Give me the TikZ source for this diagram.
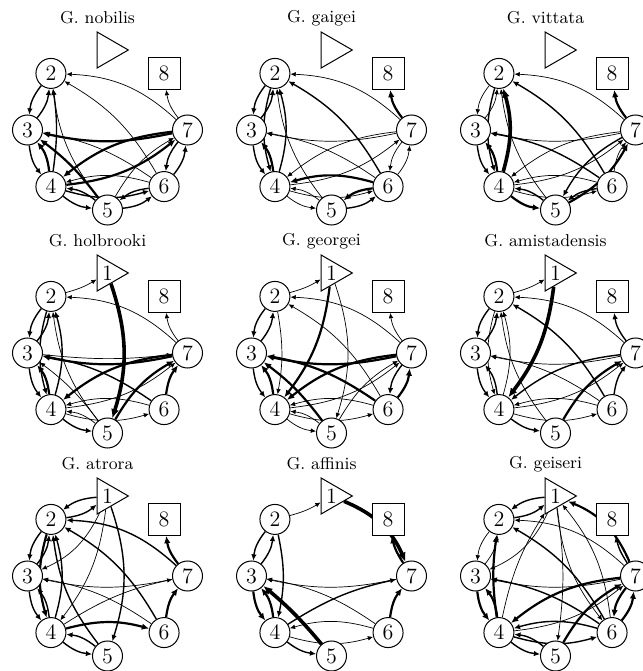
\documentclass[tikz,border=0pt]{standalone}
\usetikzlibrary{arrows.meta,shapes.geometric}
\pgfdeclarelayer{edges}
\pgfsetlayers{edges,main}
\tikzset{
  vtx/.style={circle,draw,line width=0.5pt,fill=white,minimum size=15pt,inner sep=0pt,font=\fontsize{11}{13}\selectfont},
  sqv/.style={rectangle,draw,line width=0.5pt,fill=white,minimum size=16pt,inner sep=0pt,font=\fontsize{11}{13}\selectfont},
  triv/.style={regular polygon,regular polygon sides=3,shape border rotate=-90,draw,line width=0.5pt,fill=white,minimum size=20.8pt,inner sep=0pt,font=\fontsize{11}{13}\selectfont},
  ttl/.style={font=\fontsize{8.6}{10}\selectfont,inner sep=0pt},
  edge/.style={-{Latex[length=2.2pt 1.3,width=1.9pt 1.2]}},
  lwa/.style={line width=0.35pt},
  lwb/.style={line width=0.7pt},
  lwc/.style={line width=1.1pt},
  lwd/.style={line width=1.8pt}
}
% one panel: prefix, centre x, centre y, title, label of node 1
\newcommand\panel[5]{%
  \begin{scope}[shift={(#2,#3)}]
    \node[ttl] (#1-t) at (-10,112) {#4};
    \node[triv] (#1-1) at (0,80) {#5};
    \node[vtx] (#1-2) at (-56.57,56.57) {2};
    \node[vtx] (#1-3) at (-80,0) {3};
    \node[vtx] (#1-4) at (-56.57,-56.57) {4};
    \node[vtx] (#1-5) at (0,-80) {5};
    \node[vtx] (#1-6) at (56.57,-56.57) {6};
    \node[vtx] (#1-7) at (80,0) {7};
    \node[sqv] (#1-8) at (56.57,56.57) {8};
  \end{scope}}
% one edge of the current panel \P: [bend] from, to, width style
\newcommand\E[4][16]{\draw[edge,#4] (\P-#2) to[bend right=#1] (\P-#3);}

\begin{document}
\begin{tikzpicture}[x=0.5pt,y=0.5pt]
\useasboundingbox (0,0) rectangle (643,671);

\panel{a}{107.5}{541}{G. nobilis}{}
\panel{b}{331.5}{541}{G. gaigei}{}
\panel{c}{555.5}{541}{G. vittata}{}
\panel{d}{107.5}{318}{G. holbrooki}{1}
\panel{e}{331.5}{318}{G. georgei}{1}
\panel{f}{555.5}{318}{G. amistadensis}{1}
\panel{g}{107.5}{95}{G. atrora}{1}
\panel{h}{331.5}{95}{G. affinis}{1}
\panel{i}{555.5}{95}{G. geiseri}{1}

\begin{pgfonlayer}{edges}
% G. nobilis
\def\P{a}
\E[-15]{7}{8}{lwa} \E[20]{7}{2}{lwa} \E[-12]{7}{3}{lwc}
\E{6}{7}{lwb} \E{7}{6}{lwb} \E{4}{7}{lwc} \E{7}{4}{lwc}
\E[-15]{5}{7}{lwa} \E[15]{6}{2}{lwa} \E[-15]{5}{2}{lwa} \E[8]{4}{2}{lwb}
\E{2}{3}{lwb} \E{3}{2}{lwb} \E{3}{4}{lwb} \E{4}{3}{lwc}
\E[8]{5}{3}{lwc} \E[12]{6}{3}{lwa}
\E{4}{6}{lwb} \E{6}{4}{lwa} \E{4}{5}{lwb} \E{5}{4}{lwb} \E{5}{6}{lwb} \E{6}{5}{lwb}
% G. gaigei
\def\P{b}
\E[-15]{7}{8}{lwc} \E[20]{7}{2}{lwa} \E[15]{6}{2}{lwb} \E[-15]{5}{2}{lwa}
\E{4}{2}{lwb} \E{2}{4}{lwb} \E{2}{3}{lwb} \E{3}{2}{lwb} \E{3}{4}{lwb} \E{4}{3}{lwc}
\E[-12]{7}{3}{lwa} \E[12]{6}{3}{lwa}
\E{4}{7}{lwa} \E{7}{4}{lwa} \E{6}{7}{lwa} \E{7}{6}{lwa}
\E{6}{4}{lwc} \E{4}{6}{lwa} \E{4}{5}{lwa} \E{5}{4}{lwa} \E{5}{6}{lwb} \E{6}{5}{lwc}
% G. vittata
\def\P{c}
\E[-15]{7}{8}{lwc} \E[20]{7}{2}{lwa} \E[15]{6}{2}{lwb} \E[-15]{5}{2}{lwa}
\E{4}{2}{lwd} \E{2}{4}{lwb} \E{2}{3}{lwa} \E{3}{2}{lwa} \E{3}{4}{lwb} \E{4}{3}{lwc}
\E[-12]{7}{3}{lwa} \E[12]{6}{3}{lwb}
\E{4}{7}{lwa} \E{7}{4}{lwa} \E{5}{7}{lwc} \E{7}{5}{lwb} \E[-15]{6}{7}{lwa}
\E{4}{6}{lwa} \E{6}{4}{lwa} \E{4}{5}{lwc} \E{5}{4}{lwb} \E[15]{6}{5}{lwb}
% G. holbrooki
\def\P{d}
\E[8]{2}{1}{lwa} \E[-18]{1}{5}{lwd}
\E[-15]{7}{8}{lwa} \E[20]{7}{2}{lwa} \E[-12]{7}{3}{lwc} \E[6]{3}{7}{lwa}
\E{7}{4}{lwc} \E{4}{7}{lwa} \E[-15]{5}{7}{lwc} \E[-15]{6}{7}{lwc}
\E{4}{2}{lwb} \E{2}{4}{lwb} \E{2}{3}{lwb} \E{3}{2}{lwb} \E{3}{4}{lwb} \E{4}{3}{lwc}
\E[-15]{5}{2}{lwa} \E[12]{6}{3}{lwb} \E[8]{5}{3}{lwa}
\E{4}{6}{lwa} \E{6}{4}{lwa} \E{4}{5}{lwb} \E{5}{4}{lwa}
% G. georgei
\def\P{e}
\E[8]{2}{1}{lwa} \E[-15]{1}{4}{lwc} \E[-18]{1}{5}{lwa}
\E[-15]{7}{8}{lwa} \E[20]{7}{2}{lwa} \E[15]{6}{2}{lwa}
\E{2}{3}{lwb} \E{3}{2}{lwb} \E{3}{4}{lwb} \E{4}{3}{lwc} \E[-10]{2}{4}{lwa}
\E[-12]{7}{3}{lwc} \E{7}{4}{lwc} \E{4}{7}{lwa} \E[-15]{5}{7}{lwa}
\E[12]{6}{3}{lwc} \E{6}{7}{lwc} \E{7}{6}{lwb}
\E{4}{6}{lwa} \E{6}{4}{lwa} \E{4}{5}{lwa} \E{5}{4}{lwa} \E[8]{5}{3}{lwc}
% G. amistadensis
\def\P{f}
\E[8]{2}{1}{lwa} \E[-15]{1}{4}{lwd}
\E[-15]{7}{8}{lwb} \E[20]{7}{2}{lwa} \E[15]{6}{2}{lwb}
\E{2}{3}{lwb} \E{3}{2}{lwb} \E{2}{4}{lwa} \E{4}{2}{lwa} \E[-15]{5}{2}{lwa}
\E{3}{4}{lwb} \E{4}{3}{lwb} \E[-12]{7}{3}{lwa} \E[12]{6}{3}{lwa}
\E{7}{4}{lwb} \E{4}{7}{lwa} \E[-15]{5}{7}{lwc} \E[-15]{6}{7}{lwb}
\E{4}{6}{lwa} \E{6}{4}{lwa} \E[15]{4}{5}{lwb}
% G. atrora
\def\P{g}
\E{1}{2}{lwb} \E{2}{1}{lwb} \E[-20]{1}{3}{lwa} \E[-15]{1}{4}{lwa} \E[-18]{1}{5}{lwb}
\E[-15]{7}{8}{lwc} \E[20]{7}{2}{lwb} \E[15]{6}{2}{lwb}
\E{2}{3}{lwb} \E{3}{2}{lwb} \E{3}{4}{lwb} \E{4}{3}{lwb} \E{2}{4}{lwc} \E{4}{2}{lwb}
\E[-15]{5}{2}{lwb} \E[-12]{7}{3}{lwa} \E[-10]{4}{7}{lwa} \E[12]{6}{3}{lwa}
\E[-15]{6}{7}{lwc} \E[-15]{4}{6}{lwc} \E{4}{5}{lwb} \E{5}{4}{lwb}
% G. affinis
\def\P{h}
\E[8]{2}{1}{lwa} \E[-22]{1}{7}{lwd} \E[-10]{7}{8}{lwc}
\E[-12]{2}{4}{lwb} \E{2}{3}{lwb} \E{3}{2}{lwb} \E{3}{4}{lwc} \E{4}{3}{lwc}
\E[5]{5}{3}{lwd} \E[-12]{7}{3}{lwa} \E[-10]{4}{7}{lwb} \E[12]{6}{3}{lwa}
\E[-15]{6}{7}{lwc} \E{4}{6}{lwa} \E{6}{4}{lwa} \E[15]{4}{5}{lwb}
% G. geiseri
\def\P{i}
\E{1}{2}{lwb} \E{2}{1}{lwb} \E[-20]{1}{3}{lwa} \E[-10]{4}{1}{lwa} \E[-8]{1}{5}{lwa}
\E{1}{6}{lwa} \E{6}{1}{lwa} \E[22]{7}{1}{lwc} \E[-10]{7}{8}{lwb}
\E[20]{7}{2}{lwa} \E[15]{6}{2}{lwb} \E{2}{3}{lwa} \E{3}{2}{lwa} \E[-8]{4}{2}{lwc}
\E{3}{4}{lwc} \E{4}{3}{lwc} \E[-12]{7}{3}{lwa} \E{7}{4}{lwc} \E{4}{7}{lwa}
\E[-15]{5}{7}{lwc} \E[12]{6}{3}{lwb} \E{6}{7}{lwc} \E{7}{6}{lwc}
\E{4}{6}{lwb} \E{6}{4}{lwb} \E{4}{5}{lwb} \E{5}{4}{lwb}
\end{pgfonlayer}
\end{tikzpicture}
\end{document}
